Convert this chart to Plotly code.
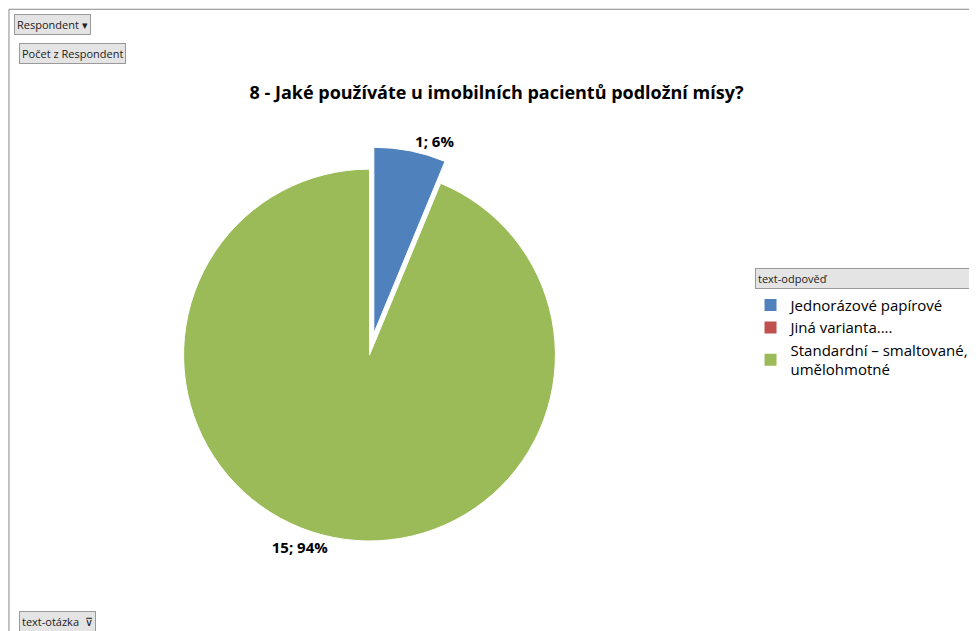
import plotly.graph_objects as go

categories = ["Jednorázové papírové", "Jiná varianta....", "Standardní – smaltované,<br>umělohmotné"]
values = [1, 0, 15]
label_texts = ["<b>1; 6%</b>", "", "<b>15; 94%</b>"]
colors = ["#4F81BD", "#C0504D", "#9BBB59"]

fig = go.Figure(go.Pie(
    labels=categories, values=values, text=label_texts,
    textinfo="text", textposition="outside",
    textfont=dict(size=15, color="black", family="Open Sans"),
    marker=dict(colors=colors, line=dict(color="white", width=1)),
    sort=False, direction="clockwise", rotation=0,
    pull=[0.12, 0, 0],
    domain=dict(x=[0.12, 0.62], y=[0.12, 0.78]),
    showlegend=False,
))

for name, c in zip(categories, colors):
    fig.add_trace(go.Scatter(x=[None], y=[None], mode="markers", name=name,
                             marker=dict(symbol="square", size=10, color=c)))

fig.update_layout(
    width=977, height=631,
    margin=dict(l=0, r=0, t=0, b=0),
    paper_bgcolor="white", plot_bgcolor="white",
    xaxis=dict(visible=False), yaxis=dict(visible=False),
    font=dict(family="Open Sans", color="black"),
    title=dict(text="<b>8 - Jaké používáte u imobilních pacientů podložní mísy?</b>",
               x=0.5, y=0.875, xanchor="center", font=dict(size=18)),
    legend=dict(x=0.76, y=0.555, xanchor="left", yanchor="top",
                font=dict(size=15), tracegroupgap=22, itemsizing="constant",
                bgcolor="rgba(0,0,0,0)"),
    shapes=[dict(type="rect", xref="paper", yref="paper", x0=0.001, y0=0.002, x1=0.999, y1=0.998,
                 line=dict(color="#888", width=1))],
)

def btn(text, x, y):
    fig.add_annotation(text=text, xref="paper", yref="paper", x=x, y=y,
                       xanchor="left", yanchor="top", showarrow=False,
                       font=dict(size=11, color="#222"), bgcolor="#E4E4E4",
                       bordercolor="#999", borderwidth=1, borderpad=2)

btn("Respondent ▾", 0.006, 0.99)
btn("Počet z Respondent", 0.011, 0.945)
btn("text-otázka  ⊽", 0.011, 0.045)
btn("text-odpověď" + " " * 62 + "▾", 0.765, 0.588)

fig.write_html("out.html")
